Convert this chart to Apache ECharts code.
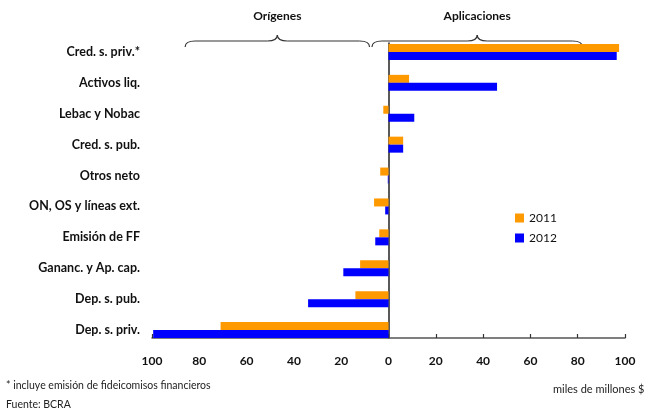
<!DOCTYPE html>
<html>
<head>
<meta charset="utf-8">
<script src="https://cdn.jsdelivr.net/npm/echarts@6/dist/echarts.min.js"></script>
<style>
  html, body { margin: 0; padding: 0; background: #fff; }
  #chart { width: 650px; height: 412px; }
</style>
</head>
<body>
<div id="chart"></div>
<script>
// Orígenes y aplicaciones de fondos (miles de millones de $)
const categories = [
  'Cred. s. priv.*', 'Activos liq.', 'Lebac y Nobac', 'Cred. s. pub.', 'Otros neto',
  'ON, OS y líneas ext.', 'Emisión de FF', 'Gananc. y Ap. cap.', 'Dep. s. pub.', 'Dep. s. priv.'
];
const values2011 = [97.5, 8.7, -2.2, 6.2, -3.5, -6.1, -3.9, -12, -14, -71];
const values2012 = [96.5, 45.9, 10.9, 6.2, -0.3, -1.4, -5.6, -19.1, -34, -99.5];
const tickValues = [-100, -80, -60, -40, -20, 0, 20, 40, 60, 80, 100];
// Tramos de las llaves superiores (en unidades del eje)
const braceSpans = [
  { label: 'Orígenes', from: -86, to: -8 },
  { label: 'Aplicaciones', from: -7, to: 82 }
];

const FONT = 'Lato, "Open Sans", sans-serif';
const chart = echarts.init(document.getElementById('chart'));

chart.setOption({
  animation: false,
  backgroundColor: '#fff',
  textStyle: { fontFamily: FONT },
  grid: [
    { left: 152, right: 25, top: 36.5, height: 309 },
    { left: 152, right: 25, top: 43, height: 295 }
  ],
  legend: {
    orient: 'vertical',
    left: 510,
    top: 207,
    itemWidth: 9,
    itemHeight: 9,
    itemGap: 8,
    icon: 'rect',
    data: ['2011', '2012'],
    textStyle: { fontFamily: FONT, fontSize: 12, color: '#111' }
  },
  xAxis: [
    {
      gridIndex: 0,
      type: 'value',
      min: tickValues[0],
      max: tickValues[tickValues.length - 1],
      interval: 20,
      offset: -7.5,
      splitLine: { show: false },
      axisLine: { show: true, lineStyle: { color: '#555', width: 1.5 } },
      axisTick: { show: true, inside: true, length: 4, lineStyle: { color: '#333', width: 1.2 } },
      axisLabel: {
        margin: 17,
        fontFamily: FONT,
        fontWeight: 'bold',
        fontSize: 12,
        color: '#111',
        formatter: v => String(Math.abs(v))
      }
    },
    {
      gridIndex: 1,
      type: 'value',
      min: tickValues[0],
      max: tickValues[tickValues.length - 1],
      show: false
    }
  ],
  yAxis: [
    {
      gridIndex: 0,
      type: 'category',
      inverse: true,
      data: categories,
      axisLine: { show: false },
      axisTick: { show: false },
      axisLabel: {
        margin: 12,
        fontFamily: FONT,
        fontWeight: 'bold',
        fontSize: 12.5,
        color: '#111'
      }
    },
    {
      gridIndex: 1,
      type: 'category',
      inverse: true,
      data: categories,
      axisLine: { show: true, onZero: true, lineStyle: { color: '#222', width: 1.5 } },
      axisTick: { show: false },
      axisLabel: { show: false }
    }
  ],
  series: [
    {
      name: '2011',
      type: 'bar',
      xAxisIndex: 0,
      yAxisIndex: 0,
      data: values2011,
      barWidth: 8,
      barGap: '0%',
      itemStyle: { color: '#FF9900' }
    },
    {
      name: '2012',
      type: 'bar',
      xAxisIndex: 0,
      yAxisIndex: 0,
      data: values2012,
      barWidth: 8,
      barGap: '0%',
      itemStyle: { color: '#0000FF' }
    }
  ]
});

// Llaves y rótulos superiores, ubicados según la escala del eje x
const braceY = 41;
const braceStyle = { stroke: '#333', lineWidth: 1.2, fill: null };
const graphics = [];
function curve(xa, ya, cx, cy, xb, yb) {
  return { type: 'bezierCurve', shape: { x1: xa, y1: ya, cpx1: cx, cpy1: cy, x2: xb, y2: yb }, style: braceStyle };
}
function seg(xa, ya, xb, yb) {
  return { type: 'line', shape: { x1: xa, y1: ya, x2: xb, y2: yb }, style: braceStyle };
}
braceSpans.forEach(b => {
  const x0 = chart.convertToPixel({ xAxisIndex: 0 }, b.from);
  const x1 = chart.convertToPixel({ xAxisIndex: 0 }, b.to);
  const mid = (x0 + x1) / 2;
  const r = 10, y = braceY;
  graphics.push(
    curve(x0, y + 6, x0, y, x0 + r, y),
    seg(x0 + r, y, mid - r, y),
    curve(mid - r, y, mid, y, mid, y - 6),
    curve(mid, y - 6, mid, y, mid + r, y),
    seg(mid + r, y, x1 - r, y),
    curve(x1 - r, y, x1, y, x1, y + 6)
  );
  graphics.push({
    type: 'text',
    x: mid,
    y: 16,
    style: {
      text: b.label,
      fontFamily: FONT,
      fontWeight: 'bold',
      fontSize: 12,
      fill: '#111',
      align: 'center',
      verticalAlign: 'middle'
    }
  });
});
graphics.push(
  {
    type: 'text', x: 6, y: 386,
    style: { text: '* incluye emisión de fideicomisos financieros', fontFamily: FONT, fontSize: 10.5, fill: '#222', verticalAlign: 'middle' }
  },
  {
    type: 'text', x: 6, y: 405,
    style: { text: 'Fuente: BCRA', fontFamily: FONT, fontSize: 10.5, fill: '#222', verticalAlign: 'middle' }
  },
  {
    type: 'text', x: 553, y: 389,
    style: { text: 'miles de millones $', fontFamily: FONT, fontSize: 11, fill: '#222', verticalAlign: 'middle' }
  }
);
chart.setOption({ graphic: graphics });
</script>
</body>
</html>
